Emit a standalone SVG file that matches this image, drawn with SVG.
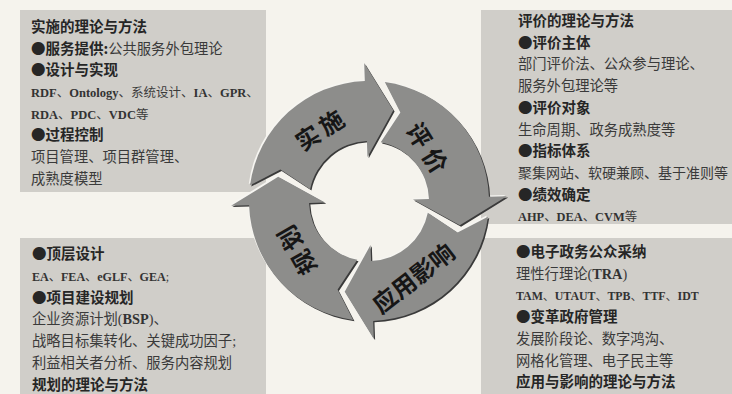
<svg xmlns="http://www.w3.org/2000/svg" xmlns:xlink="http://www.w3.org/1999/xlink" width="732" height="394" viewBox="0 0 732 394">
<style>
.box { fill: #d0cec9; }
.h { font-family: "Noto Sans CJK SC", sans-serif; font-weight: 700; font-size: 14.5px; fill: #262626; }
.b { font-family: "Liberation Serif", "Noto Sans CJK SC", serif; font-size: 14.3px; fill: #3a3a3a; }
.lat { font-weight: 700; fill: #333333; }
.ring { font-family: "Noto Sans CJK SC", sans-serif; font-weight: 700; font-size: 24px; fill: #161616; text-anchor: middle; }
.hl { fill: #f6f5f1; }
.sh { fill: #3a3a3a; }
.fc { fill: #8d8d8b; }
</style>
<defs>
<path id="arrow" d="M250.67,181.05 A120,120 0 0 1 369,81 L369,63 L396.48,111.11 L369,157 L369,141 A60,60 0 0 0 310.61,187.2 L281.54,166.55 Z"/>
</defs>
<rect x="0" y="0" width="732" height="394" fill="#f5f3ed"/>

<g id="box-implement">
<rect class="box" x="20" y="10" width="246" height="182"/>
<text class="h" x="31" y="32">实施的理论与方法</text>
<text x="31" y="53.6"><tspan class="h">●服务提供:</tspan><tspan class="b">公共服务外包理论</tspan></text>
<text class="h" x="31" y="75.3">●设计与实现</text>
<text class="b" x="31" y="97" style="font-size:12.5px"><tspan class="lat">RDF</tspan>、<tspan class="lat">Ontology</tspan>、系统设计、<tspan class="lat">IA</tspan>、<tspan class="lat">GPR</tspan>、</text>
<text class="b" x="31" y="118.6" style="font-size:12.5px"><tspan class="lat">RDA</tspan>、<tspan class="lat">PDC</tspan>、<tspan class="lat">VDC</tspan>等</text>
<text class="h" x="31" y="140.3">●过程控制</text>
<text class="b" x="31" y="162">项目管理、项目群管理、</text>
<text class="b" x="31" y="183.6">成熟度模型</text>
</g>

<g id="box-evaluate">
<rect class="box" x="481" y="10" width="251" height="214"/>
<text class="h" x="518" y="26">评价的理论与方法</text>
<text class="h" x="518" y="47.7">●评价主体</text>
<text class="b" x="518" y="69.4">部门评价法、公众参与理论、</text>
<text class="b" x="518" y="91.1">服务外包理论等</text>
<text class="h" x="518" y="112.8">●评价对象</text>
<text class="b" x="518" y="134.5">生命周期、政务成熟度等</text>
<text class="h" x="518" y="156.2">●指标体系</text>
<text class="b" x="518" y="177.9" style="font-size:14px">聚集网站、软硬兼顾、基于准则等</text>
<text class="h" x="518" y="199.6">●绩效确定</text>
<text class="b" x="518" y="221.3" style="font-size:12.4px"><tspan class="lat">AHP</tspan>、<tspan class="lat">DEA</tspan>、<tspan class="lat">CVM</tspan>等</text>
</g>

<g id="box-plan">
<rect class="box" x="20" y="238" width="246" height="156"/>
<text class="h" x="32" y="259">●顶层设计</text>
<text class="b" x="32" y="280.8" style="font-size:12.1px"><tspan class="lat">EA</tspan>、<tspan class="lat">FEA</tspan>、<tspan class="lat">eGLF</tspan>、<tspan class="lat">GEA</tspan>;</text>
<text class="h" x="32" y="302.6">●项目建设规划</text>
<text class="b" x="32" y="324.4">企业资源计划(<tspan class="lat">BSP</tspan>)、</text>
<text class="b" x="32" y="346.2">战略目标集转化、关键成功因子;</text>
<text class="b" x="32" y="368">利益相关者分析、服务内容规划</text>
<text class="h" x="32" y="389.8">规划的理论与方法</text>
</g>

<g id="box-apply">
<rect class="box" x="481" y="238" width="251" height="156"/>
<text class="h" x="516" y="257">●电子政务公众采纳</text>
<text class="b" x="516" y="278.7">理性行理论(<tspan class="lat">TRA</tspan>)</text>
<text class="b" x="516" y="300.4" style="font-size:11.9px"><tspan class="lat">TAM</tspan>、<tspan class="lat">UTAUT</tspan>、<tspan class="lat">TPB</tspan>、<tspan class="lat">TTF</tspan>、<tspan class="lat">IDT</tspan></text>
<text class="h" x="516" y="322.1">●变革政府管理</text>
<text class="b" x="516" y="343.8">发展阶段论、数字鸿沟、</text>
<text class="b" x="516" y="365.5">网格化管理、电子民主等</text>
<text class="h" x="516" y="387.2">应用与影响的理论与方法</text>
</g>

<g id="arrow-implement">
<use href="#arrow" class="hl" transform="translate(-1.3,-1.3) rotate(-2 369 201)"/>
<use href="#arrow" class="sh" transform="translate(1.3,1.3) rotate(-2 369 201)"/>
<use href="#arrow" class="fc" transform="rotate(-2 369 201)"/>
<text class="ring" transform="translate(322,130) rotate(-33)" y="8" letter-spacing="4">实施</text>
</g>
<g id="arrow-evaluate">
<use href="#arrow" class="hl" transform="translate(-1.3,-1.3) rotate(88 369 201)"/>
<use href="#arrow" class="sh" transform="translate(1.3,1.3) rotate(88 369 201)"/>
<use href="#arrow" class="fc" transform="rotate(88 369 201)"/>
<text class="ring" transform="translate(428,151) rotate(58)" y="8" letter-spacing="6">评价</text>
</g>
<g id="arrow-apply">
<use href="#arrow" class="hl" transform="translate(-1.3,-1.3) rotate(178 369 201)"/>
<use href="#arrow" class="sh" transform="translate(1.3,1.3) rotate(178 369 201)"/>
<use href="#arrow" class="fc" transform="rotate(178 369 201)"/>
<text class="ring" transform="translate(414,279) rotate(-38)" y="8">应用影响</text>
</g>
<g id="arrow-plan">
<use href="#arrow" class="hl" transform="translate(-1.3,-1.3) rotate(268 369 201)"/>
<use href="#arrow" class="sh" transform="translate(1.3,1.3) rotate(268 369 201)"/>
<use href="#arrow" class="fc" transform="rotate(268 369 201)"/>
<text class="ring" transform="translate(297,248) rotate(240)" y="8" letter-spacing="4">规划</text>
</g>

<g id="connectors"/>
</svg>
